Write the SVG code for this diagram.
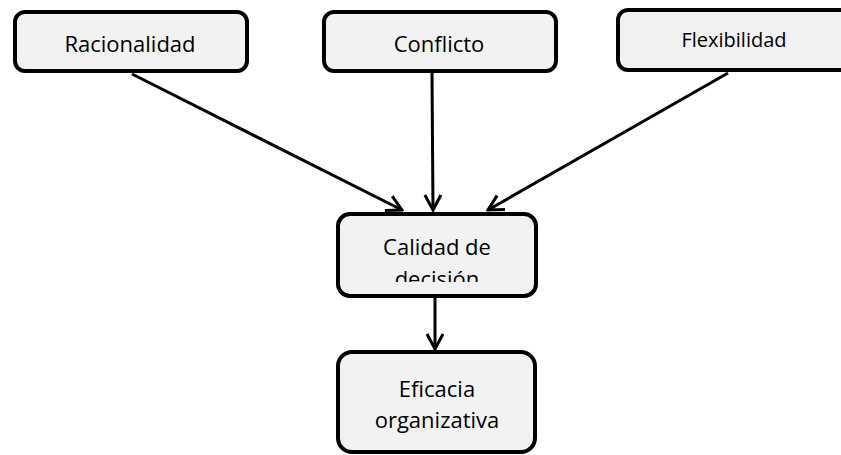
<svg xmlns="http://www.w3.org/2000/svg" width="841" height="455" viewBox="0 0 841 455">
<style>
.box{fill:#f2f2f2;stroke:#000;stroke-width:4}
.t{font-family:"Open Sans","Liberation Sans",sans-serif;font-size:22px;fill:#000;text-anchor:middle}
.c{stroke:#000;stroke-width:3;fill:none;marker-end:url(#a)}
</style>
<defs>
<marker id="a" viewBox="-17 -10 19 20" refX="0" refY="0" markerWidth="19" markerHeight="20" markerUnits="userSpaceOnUse" orient="auto">
<path d="M-15,-8 L0,0 L-15,8" fill="none" stroke="#000" stroke-width="3"/>
</marker>
<clipPath id="cl"><rect x="338" y="214" width="198" height="68"/></clipPath>
</defs>
<rect width="841" height="455" fill="#fff"/>
<g id="connectors">
<line class="c" x1="132" y1="74" x2="402" y2="210"/>
<line class="c" x1="432" y1="73" x2="433" y2="210"/>
<line class="c" x1="728" y1="73" x2="488" y2="210"/>
<line class="c" x1="435" y1="298" x2="435" y2="349"/>
</g>
<g id="racionalidad">
<rect class="box" x="15" y="12" width="232" height="59" rx="10"/>
<text class="t" x="130" y="52">Racionalidad</text>
</g>
<g id="conflicto">
<rect class="box" x="324" y="12" width="232" height="59" rx="10"/>
<text class="t" x="439" y="52">Conflicto</text>
</g>
<g id="flexibilidad">
<rect class="box" x="618" y="10" width="250" height="60" rx="10"/>
<text class="t" x="734" y="47" style="font-size:20px">Flexibilidad</text>
</g>
<g id="calidad">
<rect class="box" x="338" y="214" width="198" height="82" rx="12"/>
<g clip-path="url(#cl)">
<text class="t" x="437" y="255">Calidad de</text>
<text class="t" x="437" y="287">decisión</text>
</g>
</g>
<g id="eficacia">
<rect class="box" x="338" y="352" width="197" height="100" rx="14"/>
<text class="t" x="437" y="397">Eficacia</text>
<text class="t" x="437" y="428">organizativa</text>
</g>
</svg>
